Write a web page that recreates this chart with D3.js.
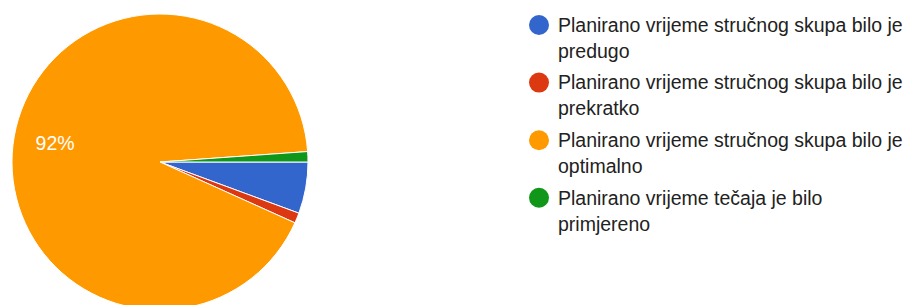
<!DOCTYPE html>
<html>
<head>
<meta charset="utf-8">
<script src="https://cdn.jsdelivr.net/npm/d3@7"></script>
<style>
  html, body { margin: 0; padding: 0; background: #fff; }
  svg { display: block; }
</style>
</head>
<body>
<svg id="chart" width="910" height="305"></svg>
<script>
const categories = [
  "Planirano vrijeme stručnog skupa bilo je predugo",
  "Planirano vrijeme stručnog skupa bilo je prekratko",
  "Planirano vrijeme stručnog skupa bilo je optimalno",
  "Planirano vrijeme tečaja je bilo primjereno"
];
const legendLines = [
  ["Planirano vrijeme stručnog skupa bilo je", "predugo"],
  ["Planirano vrijeme stručnog skupa bilo je", "prekratko"],
  ["Planirano vrijeme stručnog skupa bilo je", "optimalno"],
  ["Planirano vrijeme tečaja je bilo", "primjereno"]
];
const values = [5, 1, 82, 1];
const colors = ["#3366cc", "#dc3912", "#ff9900", "#109618"];

const svg = d3.select("#chart");
const cx = 160, cy = 162, r = 148;
const font = "'Liberation Sans', Arial, sans-serif";

const pie = d3.pie().sort(null).value(d => d)
  .startAngle(Math.PI / 2).endAngle(Math.PI / 2 + 2 * Math.PI);
const arcs = pie(values);
const arc = d3.arc().innerRadius(0).outerRadius(r);
const labelArc = d3.arc().innerRadius(r * 0.72).outerRadius(r * 0.72);
const total = d3.sum(values);

const g = svg.append("g").attr("transform", `translate(${cx},${cy})`);
g.selectAll("path").data(arcs).enter().append("path")
  .attr("d", arc)
  .attr("fill", (d, i) => colors[i])
  .attr("stroke", "#fff")
  .attr("stroke-width", 1);

g.selectAll("text.lbl").data(arcs.filter(d => d.value / total > 0.1)).enter()
  .append("text")
  .attr("class", "lbl")
  .attr("transform", d => `translate(${labelArc.centroid(d)})`)
  .attr("text-anchor", "middle")
  .attr("dy", "0.35em")
  .attr("fill", "#fff")
  .style("font-family", font)
  .style("font-size", "19.5px")
  .text(d => Math.round(d.value / total * 100) + "%");

const legend = svg.append("g").attr("transform", "translate(539,25)");
const item = legend.selectAll("g").data(categories).enter().append("g")
  .attr("transform", (d, i) => `translate(0,${i * 57.6})`);
item.append("circle").attr("r", 10).attr("fill", (d, i) => colors[i]);
item.each(function(d, i) {
  const t = d3.select(this).append("text")
    .attr("fill", "#222222")
    .style("font-family", font)
    .style("font-size", "19.5px");
  legendLines[i].forEach((line, j) => {
    t.append("tspan").attr("x", 19).attr("y", j * 26).attr("dy", "0.35em").text(line);
  });
});
</script>
</body>
</html>
